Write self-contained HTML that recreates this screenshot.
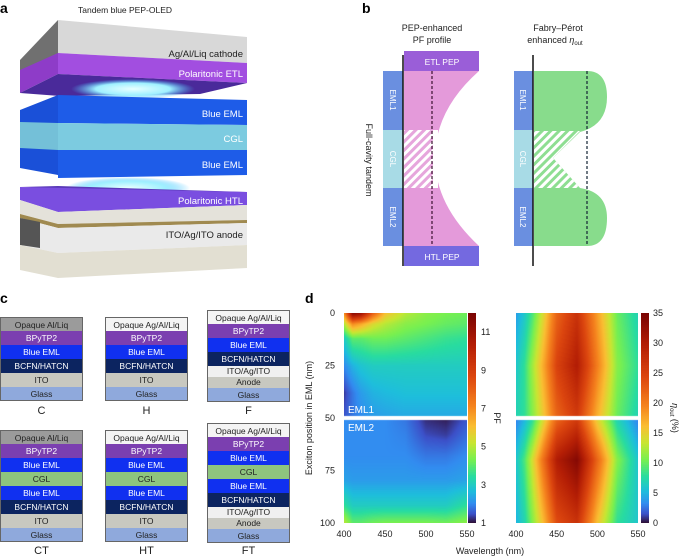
<!DOCTYPE html>
<html><head><meta charset="utf-8"><style>
body{margin:0;background:#fff;width:685px;height:558px;overflow:hidden;position:relative;font-family:"Liberation Sans",sans-serif;}
.abs{position:absolute;}
.lbl{position:absolute;font-weight:bold;font-size:14px;}
.stack{position:absolute;width:83px;}
.stack div{height:14px;line-height:14px;text-align:center;font-size:8.5px;color:#fff;box-sizing:border-box;border-left:1px solid #666;border-right:1px solid #666;}
.stack div:first-child{border-top:1px solid #666}
.stack div:last-child{border-bottom:1px solid #666}
.dk{color:#222!important}
.cap{position:absolute;width:83px;text-align:center;font-size:11px;color:#222;}
</style></head><body>
<div class="lbl" style="left:0;top:0">a</div>
<div class="lbl" style="left:362px;top:0">b</div>
<div class="lbl" style="left:0;top:290px">c</div>
<div class="lbl" style="left:305px;top:290px">d</div>

<svg class="abs" style="left:0;top:0" width="340" height="290">
<defs>
<radialGradient id="glow"><stop offset="0" stop-color="#e8ffff"/><stop offset="0.6" stop-color="#9ff0ff"/><stop offset="1" stop-color="#40c0ff" stop-opacity="0"/></radialGradient>
</defs>
<text x="125" y="13" font-size="8.5" text-anchor="middle" fill="#222">Tandem blue PEP-OLED</text>
<polygon points="20,60 58,20 58,72 20,93" fill="#707070"/>
<polygon points="20,70 58,53 58,74 20,93" fill="#8e3cc8"/>
<polygon points="58,20 247,37 247,63 58,53" fill="#d8d8d8"/>
<polygon points="58,53 247,63 247,83 58,74" fill="#a24ee0"/>
<polygon points="20,93 58,74 247,83 200,94 60,96" fill="#4a2a9a"/>
<text x="243" y="57" font-size="9.5" text-anchor="end" fill="#222">Ag/Al/Liq cathode</text>
<text x="243" y="77" font-size="9.5" text-anchor="end" fill="#fff">Polaritonic ETL</text>
<ellipse cx="133" cy="89" rx="62" ry="10" fill="url(#glow)"/>
<polygon points="20,110 58,95 58,175 20,168" fill="#1a50d8"/>
<polygon points="20,122 58,123 58,150 20,148" fill="#74c0d8"/>
<polygon points="58,95 247,100 247,125 58,123" fill="#1e5ce8"/>
<polygon points="58,123 247,125 247,150 58,150" fill="#7ccbe0"/>
<polygon points="58,150 247,150 247,175 58,178" fill="#1e5ce8"/>
<text x="243" y="117" font-size="9.5" text-anchor="end" fill="#fff">Blue EML</text>
<text x="243" y="142" font-size="9.5" text-anchor="end" fill="#fff">CGL</text>
<text x="243" y="168" font-size="9.5" text-anchor="end" fill="#fff">Blue EML</text>
<ellipse cx="128" cy="188" rx="62" ry="11" fill="url(#glow)"/>
<polygon points="20,187 58,186 247,192 200,195" fill="#5a3ab8"/>
<polygon points="20,187 247,192 247,205 58,212 20,200" fill="#7a4ee0"/>
<polygon points="20,200 58,212 247,205 247,220 58,224 20,214" fill="#e4e2da"/>
<polygon points="20,214 58,224 247,220 247,223 58,228 20,218" fill="#a08a50"/>
<polygon points="20,218 58,228 247,223 247,245 58,253 20,245" fill="#eaeaea"/>
<polygon points="20,218 40,222 40,248 20,245" fill="#555"/>
<polygon points="20,245 58,253 247,245 247,268 58,278 20,270" fill="#e2dfd2"/>
<text x="243" y="204" font-size="9.5" text-anchor="end" fill="#fff">Polaritonic HTL</text>
<text x="243" y="238" font-size="9.5" text-anchor="end" fill="#222">ITO/Ag/ITO anode</text>
</svg>

<svg class="abs" style="left:340px;top:0" width="345" height="290">
<defs>
<pattern id="hp" width="6" height="6" patternUnits="userSpaceOnUse" patternTransform="rotate(45)"><rect width="3" height="6" fill="#e6a6dc"/></pattern>
<pattern id="hg" width="6" height="6" patternUnits="userSpaceOnUse" patternTransform="rotate(45)"><rect width="3" height="6" fill="#8ede92"/></pattern>
</defs>
<g font-size="9" fill="#222" text-anchor="middle">
<text x="92" y="31">PEP-enhanced</text><text x="92" y="43">PF profile</text>
<text x="218" y="31">Fabry–Pérot</text><text x="215" y="43">enhanced <tspan font-style="italic">η</tspan><tspan font-size="6" dy="2">out</tspan></text>
</g>
<text transform="translate(26,160) rotate(90)" font-size="9" fill="#222" text-anchor="middle">Full-cavity tandem</text>
<path d="M64,71 L139,71 Q95,110 95,158 Q95,205 139,246 L64,246 Z" fill="#e49ada"/>
<rect x="64" y="130" width="34" height="58" fill="#fff"/>
<rect x="64" y="130" width="29" height="58" fill="url(#hp)"/>
<rect x="43" y="71" width="20" height="59" fill="#6a8fe0"/>
<rect x="43" y="130" width="20" height="58" fill="#a8dbe6"/>
<rect x="43" y="188" width="20" height="58" fill="#6a8fe0"/>
<rect x="64" y="51" width="75" height="20" fill="#9a5ed8"/>
<rect x="64" y="246" width="75" height="20" fill="#7469e0"/>
<text x="102" y="65" font-size="8.5" fill="#fff" text-anchor="middle">ETL PEP</text>
<text x="102" y="260" font-size="8.5" fill="#fff" text-anchor="middle">HTL PEP</text>
<line x1="63" y1="55" x2="63" y2="266" stroke="#111" stroke-width="1.5"/>
<line x1="92" y1="71" x2="92" y2="246" stroke="#3a1030" stroke-width="1.2" stroke-dasharray="3,2"/>
<g font-size="8" fill="#fff" text-anchor="middle">
<text transform="translate(50,100) rotate(90)">EML1</text><text transform="translate(50,159) rotate(90)">CGL</text><text transform="translate(50,217) rotate(90)">EML2</text>
</g>
<path d="M194,71 L247,71 Q267,71 267,97 Q267,125 240,132 L213,158 L240,188 Q267,192 267,218 Q267,246 247,246 L194,246 L194,188 L194,130 Z" fill="#88dc8c"/>
<path d="M194,131 L240,131 L213,158 L240,188 L194,188 Z" fill="#fff"/>
<path d="M194,131 L240,131 L213,158 L240,188 L194,188 Z" fill="url(#hg)"/>
<rect x="174" y="71" width="19" height="59" fill="#6a8fe0"/>
<rect x="174" y="130" width="19" height="58" fill="#a8dbe6"/>
<rect x="174" y="188" width="19" height="58" fill="#6a8fe0"/>
<line x1="193" y1="55" x2="193" y2="266" stroke="#111" stroke-width="1.5"/>
<line x1="247" y1="71" x2="247" y2="246" stroke="#123" stroke-width="1.2" stroke-dasharray="3,2"/>
<g font-size="8" fill="#fff" text-anchor="middle">
<text transform="translate(180,100) rotate(90)">EML1</text><text transform="translate(180,159) rotate(90)">CGL</text><text transform="translate(180,217) rotate(90)">EML2</text></g>
</svg>

<div class="stack" style="left:0;top:317px">
<div style="background:#9b9b9b" class="dk">Opaque Al/Liq</div><div style="background:#7b3fb0">BPyTP2</div><div style="background:#1030f0">Blue EML</div><div style="background:#0c2460">BCFN/HATCN</div><div style="background:#c8c8c0" class="dk">ITO</div><div style="background:#8fa9dc" class="dk">Glass</div></div>
<div class="cap" style="left:0;top:405px">C</div>
<div class="stack" style="left:105px;top:317px">
<div style="background:#f4f4f4" class="dk">Opaque Ag/Al/Liq</div><div style="background:#7b3fb0">BPyTP2</div><div style="background:#1030f0">Blue EML</div><div style="background:#0c2460">BCFN/HATCN</div><div style="background:#c8c8c0" class="dk">ITO</div><div style="background:#8fa9dc" class="dk">Glass</div></div>
<div class="cap" style="left:105px;top:405px">H</div>
<div class="stack" style="left:207px;top:310px">
<div style="background:#f4f4f4" class="dk">Opaque Ag/Al/Liq</div><div style="background:#7b3fb0">BPyTP2</div><div style="background:#1030f0">Blue EML</div><div style="background:#0c2460">BCFN/HATCN</div><div style="background:#f0f0f0;height:11px;line-height:11px" class="dk">ITO/Ag/ITO</div><div style="background:#c8c8c0;height:11px;line-height:11px" class="dk">Anode</div><div style="background:#8fa9dc" class="dk">Glass</div></div>
<div class="cap" style="left:207px;top:405px">F</div>

<div class="stack" style="left:0;top:430px">
<div style="background:#9b9b9b" class="dk">Opaque Al/Liq</div><div style="background:#7b3fb0">BPyTP2</div><div style="background:#1030f0">Blue EML</div><div style="background:#8ec47e" class="dk">CGL</div><div style="background:#1030f0">Blue EML</div><div style="background:#0c2460">BCFN/HATCN</div><div style="background:#c8c8c0" class="dk">ITO</div><div style="background:#8fa9dc" class="dk">Glass</div></div>
<div class="cap" style="left:0;top:545px">CT</div>
<div class="stack" style="left:105px;top:430px">
<div style="background:#f4f4f4" class="dk">Opaque Ag/Al/Liq</div><div style="background:#7b3fb0">BPyTP2</div><div style="background:#1030f0">Blue EML</div><div style="background:#8ec47e" class="dk">CGL</div><div style="background:#1030f0">Blue EML</div><div style="background:#0c2460">BCFN/HATCN</div><div style="background:#c8c8c0" class="dk">ITO</div><div style="background:#8fa9dc" class="dk">Glass</div></div>
<div class="cap" style="left:105px;top:545px">HT</div>
<div class="stack" style="left:207px;top:423px">
<div style="background:#f4f4f4" class="dk">Opaque Ag/Al/Liq</div><div style="background:#7b3fb0">BPyTP2</div><div style="background:#1030f0">Blue EML</div><div style="background:#8ec47e" class="dk">CGL</div><div style="background:#1030f0">Blue EML</div><div style="background:#0c2460">BCFN/HATCN</div><div style="background:#f0f0f0;height:11px;line-height:11px" class="dk">ITO/Ag/ITO</div><div style="background:#c8c8c0;height:11px;line-height:11px" class="dk">Anode</div><div style="background:#8fa9dc" class="dk">Glass</div></div>
<div class="cap" style="left:207px;top:545px">FT</div>

<canvas id="hm1" class="abs" style="left:344px;top:313px" width="123" height="210"></canvas>
<canvas id="cb1" class="abs" style="left:468px;top:313px" width="8" height="210"></canvas>
<canvas id="hm2" class="abs" style="left:516px;top:313px" width="122" height="210"></canvas>
<canvas id="cb2" class="abs" style="left:641px;top:313px" width="8" height="210"></canvas>
<svg id="axes" class="abs" style="left:300px;top:290px" width="385" height="268"></svg>

<script>
const wavelengths=[400,410,420,435,450,475,500,525,550];
const pfPos1=[0,5,12,25,38,49];
const pfVals1=[[7,11.5,11,8,6,5,4.5,4.3,4.2],[5,7,6.5,5.5,5,4.5,4.3,4.1,4],[3,4,4,4.2,4.2,4,3.8,3.6,3.5],[2,2.5,2.8,3,3,3,3,3,3],[1.3,1.8,2.2,2.5,2.6,2.7,2.7,2.7,2.7],[1.5,1.8,2,2.2,2.3,2.4,2.4,2.4,2.4]];
const pfPos2=[51,58,68,80,92,100];
const pfVals2=[[2,2,2,2,2,1.8,1.2,1.1,1.5],[2,2,2,2,2,1.9,1.4,1.3,1.7],[2,2,2,2,2,2,1.8,1.8,2],[2.3,2.2,2.2,2.2,2.2,2.2,2.2,2.2,2.3],[3.5,3,3,3,3,3,3,3,3.5],[5,4,4,4.2,4.3,4.3,4.3,4.2,4.5]];
const etaPos1=[0,25,49];
const etaVals1=[[4,6,9,15,22,27,18,10,7],[6,8,12,18,25,30,20,11,8],[7,8,11,16,22,26,17,10,7]];
const etaPos2=[51,70,100];
const etaVals2=[[3,5,8,15,22,26,15,7,3],[6,9,14,22,30,34,22,11,6],[5,7,11,17,24,27,16,8,6]];
const yTicks=[0,25,50,75,100];
const xTicks=[400,450,500,550];
const pfTicks=[1,3,5,7,9,11];
const etaTicks=[0,5,10,15,20,25,30,35];

const cmapStops=[[0,48,18,59],[0.04,60,80,200],[0.09,50,140,240],[0.15,30,190,220],[0.22,40,220,160],[0.3,120,240,80],[0.38,200,230,50],[0.46,250,190,50],[0.56,245,130,30],[0.7,220,70,15],[0.85,180,30,5],[1,122,4,3]];
function turbo(x){x=Math.max(0,Math.min(1,x));let i=0;while(i<cmapStops.length-2&&x>cmapStops[i+1][0])i++;
 const a=cmapStops[i],b=cmapStops[i+1],t=(x-a[0])/(b[0]-a[0]);
 return [1,2,3].map(k=>Math.round(a[k]+(b[k]-a[k])*t));}
function idx(arr,v){let i=0;while(i<arr.length-2&&v>arr[i+1])i++;let t=(v-arr[i])/(arr[i+1]-arr[i]);return [i,Math.max(0,Math.min(1,t))];}
function interp(xs,ys,vals,x,y){const [i,tx]=idx(xs,x);const [j,ty]=idx(ys,y);
 const a=vals[j][i]*(1-tx)+vals[j][i+1]*tx, b=vals[j+1][i]*(1-tx)+vals[j+1][i+1]*tx;return a*(1-ty)+b*ty;}
function drawHM(id,pos1,v1,pos2,v2,vmin,vmax){const c=document.getElementById(id),ctx=c.getContext('2d');
 const W=c.width,H=c.height,img=ctx.createImageData(W,H);
 for(let py=0;py<H;py++){const p=py/(H-1)*100;
  for(let px=0;px<W;px++){const w=400+px/(W-1)*150;
   let k=(py*W+px)*4;
   if(Math.abs(p-50)<0.8){img.data[k]=img.data[k+1]=img.data[k+2]=255;img.data[k+3]=255;continue;}
   const v=p<50?interp(wavelengths,pos1,v1,w,p):interp(wavelengths,pos2,v2,w,p);
   const col=turbo((v-vmin)/(vmax-vmin));img.data[k]=col[0];img.data[k+1]=col[1];img.data[k+2]=col[2];img.data[k+3]=255;}}
 ctx.putImageData(img,0,0);}
function drawCB(id){const c=document.getElementById(id),ctx=c.getContext('2d');
 for(let y=0;y<c.height;y++){const col=turbo(1-y/(c.height-1));ctx.fillStyle=`rgb(${col})`;ctx.fillRect(0,y,c.width,1);}}
drawHM('hm1',pfPos1,pfVals1,pfPos2,pfVals2,1,12);
drawHM('hm2',etaPos1,etaVals1,etaPos2,etaVals2,0,35);
drawCB('cb1');drawCB('cb2');

const svg=document.getElementById('axes');const NS='http://www.w3.org/2000/svg';
function T(x,y,s,anchor,extra){const t=document.createElementNS(NS,'text');t.setAttribute('x',x);t.setAttribute('y',y);t.setAttribute('font-size','9');t.setAttribute('fill','#222');t.setAttribute('text-anchor',anchor||'middle');t.textContent=s;if(extra)t.setAttribute('transform',extra);svg.appendChild(t);return t;}
const yS=v=>23+v/100*210;
const xL=v=>44+(v-400)/150*123;
const xR=v=>216+(v-400)/150*122;
yTicks.forEach(v=>{const t=T(35,yS(v)+3,v,'end');

});
xTicks.forEach(v=>{let t=T(xL(v),247,v);


t=T(xR(v),247,v);

});
pfTicks.forEach(v=>{const t=T(181,23+(12-v)/11*210+3,v,'start');

});
etaTicks.forEach(v=>{const t=T(353,23+(35-v)/35*210+3,v,'start');

});
let t=T(190,264,'Wavelength (nm)');


t=T(12,128,'Exciton position in EML (nm)','middle','rotate(-90 12 128)');


t=T(194,128,'PF','middle','rotate(90 194 128)');


t=T(372,128,'','middle','rotate(90 372 128)');
t.innerHTML='<tspan font-style="italic">η</tspan><tspan font-size="6" dy="2">out</tspan><tspan dy="-2"> (%)</tspan>';


t=T(48,123,'EML1','start');t.setAttribute('fill','#fff');t.setAttribute('font-size','10');


t=T(48,141,'EML2','start');t.setAttribute('fill','#fff');t.setAttribute('font-size','10');


</script>
</body></html>
